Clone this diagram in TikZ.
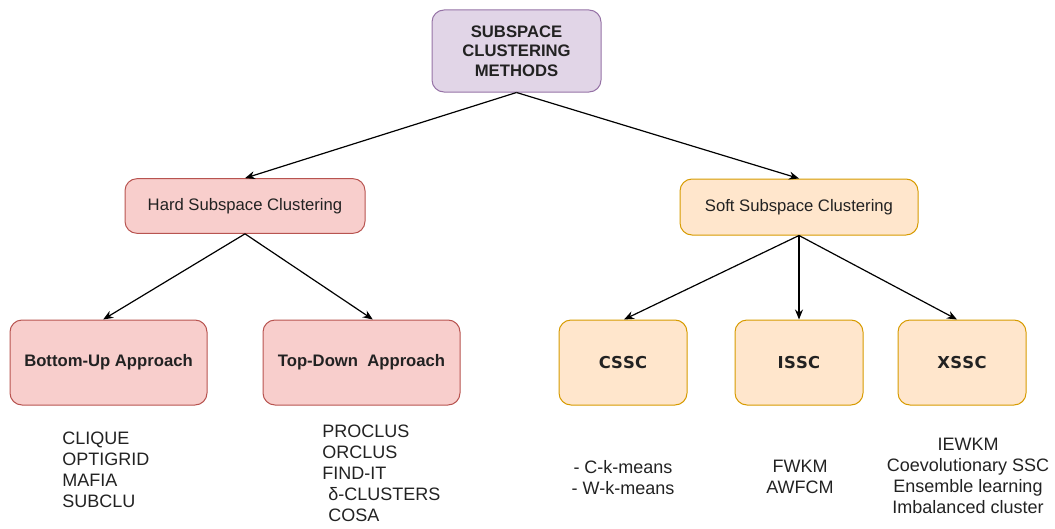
\documentclass[tikz,border=0pt]{standalone}
\usepackage{fontspec}
\setmainfont{Liberation Sans}
\newfontfamily\boxcodefont{DejaVu Sans}
\usetikzlibrary{arrows.meta}
\definecolor{rootfill}{HTML}{E1D5E7}
\definecolor{rootline}{HTML}{9673A6}
\definecolor{hardfill}{HTML}{F8CECC}
\definecolor{hardline}{HTML}{B85450}
\definecolor{softfill}{HTML}{FFE6CC}
\definecolor{softline}{HTML}{D79B00}
\definecolor{ink}{HTML}{222222}
\tikzset{
  box/.style={draw, rounded corners=9pt, line width=0.75pt, inner sep=0pt, align=center, text=ink},
  rootbox/.style={box, fill=rootfill, draw=rootline, minimum width=126.75pt, minimum height=61.5pt,
    font=\fontsize{12.5}{14.5}\selectfont\bfseries},
  hardbox/.style={box, fill=hardfill, draw=hardline, font=\fontsize{12.5}{15}\selectfont},
  softbox/.style={box, fill=softfill, draw=softline, font=\fontsize{12.5}{15}\selectfont},
  wide/.style={minimum width=180pt, minimum height=41pt},
  method/.style={minimum width=147.75pt, minimum height=63.75pt, font=\fontsize{12.5}{15}\selectfont\bfseries},
  kind/.style={minimum width=96pt, minimum height=63.75pt, font=\boxcodefont\fontsize{12.3}{15}\selectfont\bfseries},
  listing/.style={inner sep=0pt, text=ink, font=\fontsize{13.5}{15.75}\selectfont},
  link/.style={-{Stealth[length=7.5pt,width=6pt]}, line width=0.9pt, black}
}
\begin{document}
\begin{tikzpicture}[x=0.75pt, y=-0.75pt]
\useasboundingbox (0,0) rectangle (1055,528);

% root
\node[rootbox] (root) at (516.5,51) {SUBSPACE\\CLUSTERING\\METHODS};

% second level
\node[hardbox, wide] (hard) at (245,206) {Hard Subspace Clustering};
\node[softbox, wide, minimum width=178.5pt, minimum height=42pt] (soft) at (799,207) {Soft Subspace Clustering};

% third level
\node[hardbox, method] (bu) at (108.5,362.5) {Bottom-Up Approach};
\node[hardbox, method] (td) at (361.5,362.5) {Top-Down\ \ Approach};
\node[softbox, kind] (cssc) at (623,362.5) {C\kern0.2pt S\kern0.2pt S\kern0.2pt C};
\node[softbox, kind] (issc) at (799,362.5) {I\kern0.2pt S\kern0.2pt S\kern0.2pt C};
\node[softbox, kind] (xssc) at (962,362.5) {X\kern0.2pt S\kern0.2pt S\kern0.2pt C};

% connectors
\draw[link] (root.south) -- (hard.north);
\draw[link] (root.south) -- (soft.north);
\draw[link] (hard.south) -- ([xshift=-4pt]bu.north);
\draw[link] (hard.south) -- ([xshift=8.5pt]td.north);
\draw[link] (soft.south) -- ([xshift=0.75pt]cssc.north);
\draw[link] (soft.south) -- (issc.north);
\draw[link] (soft.south) -- ([xshift=-3.75pt]xssc.north);

% algorithm lists
\node[listing, anchor=north west, align=left] (bulist) at (62,432)
  {CLIQUE\\OPTIGRID\\MAFIA\\SUBCLU};
\node[listing, anchor=north west, align=left] (tdlist) at (322,425)
  {PROCLUS\\ORCLUS\\FIND-IT\\\hspace*{4.5pt}δ-CLUSTERS\\\hspace*{4.5pt}COSA};
\node[listing, anchor=north, align=center] (cssclist) at (623,460)
  {- C-k-means\\- W-k-means};
\node[listing, anchor=north, align=center] (issclist) at (800,460)
  {FWKM\\AWFCM};
\node[listing, anchor=north, align=center] (xssclist) at (968,438)
  {IEWKM\\Coevolutionary SSC\\Ensemble learning\\Imbalanced cluster};
\end{tikzpicture}
\end{document}
